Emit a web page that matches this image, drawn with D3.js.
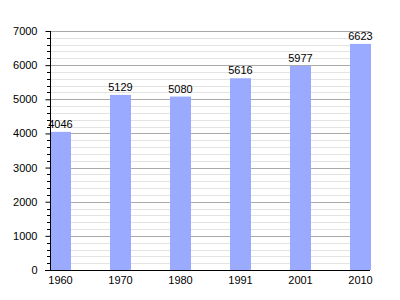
<!DOCTYPE html>
<html><head><meta charset="utf-8">
<script src="https://cdn.jsdelivr.net/npm/d3@7"></script>
<style>body{margin:0;background:#fff}svg{display:block}text{font-family:"Liberation Sans",Arial,sans-serif;font-size:11px;fill:#000}</style>
</head><body><svg id="c" width="400" height="300"></svg>
<script>
const years = ["1960","1970","1980","1991","2001","2010"];
const population = [4046,5129,5080,5616,5977,6623];
const yTicks = [0,1000,2000,3000,4000,5000,6000,7000];

const svg = d3.select("#c");
const x = d3.scaleBand().domain(years).range([50,371]).paddingInner(0.65).paddingOuter(0).align(0);
const y = d3.scaleLinear().domain([0,7000]).range([270,31]);

const minor = d3.range(0,7001,200).filter(v=>v%1000!==0);
svg.append("g").selectAll("line").data(minor).join("line")
  .attr("x1",50).attr("x2",370).attr("y1",d=>Math.round(y(d))+0.5).attr("y2",d=>Math.round(y(d))+0.5)
  .attr("stroke","#e3e3e3");
svg.append("g").selectAll("line").data(yTicks.filter(v=>v>0)).join("line")
  .attr("x1",50).attr("x2",370).attr("y1",d=>Math.round(y(d))+0.5).attr("y2",d=>Math.round(y(d))+0.5)
  .attr("stroke","#aaaaaa");

svg.append("g").selectAll("rect").data(population).join("rect")
  .attr("x",(d,i)=>x(years[i])).attr("width",x.bandwidth())
  .attr("y",d=>y(d)).attr("height",d=>y(0)-y(d)).attr("fill","#99aaff");

svg.append("g").selectAll("text").data(population).join("text")
  .attr("x",(d,i)=>x(years[i])+x.bandwidth()/2).attr("y",d=>y(d)-4)
  .attr("text-anchor","middle").text(d=>d);

// y axis
const ya = svg.append("g").attr("transform","translate(50.5,0)")
  .call(d3.axisLeft(y).tickValues(yTicks).tickSize(5).tickPadding(8).tickFormat(d3.format("d")));
ya.select(".domain").remove();
ya.selectAll("text").style("font-size","11px");
svg.append("g").selectAll("line").data(minor).join("line")
  .attr("x1",47).attr("x2",50).attr("y1",d=>Math.round(y(d))+0.5).attr("y2",d=>Math.round(y(d))+0.5)
  .attr("stroke","#000");
svg.append("line").attr("x1",50.5).attr("x2",50.5).attr("y1",31).attr("y2",270).attr("stroke","#000");

// x axis
const xa = svg.append("g").attr("transform","translate(0,270)")
  .call(d3.axisBottom(x).tickSize(0).tickPadding(6));
xa.select(".domain").remove();
xa.selectAll("text").style("font-size","11px");
svg.append("line").attr("x1",45).attr("x2",370).attr("y1",270.5).attr("y2",270.5).attr("stroke","#000");
</script></body></html>
